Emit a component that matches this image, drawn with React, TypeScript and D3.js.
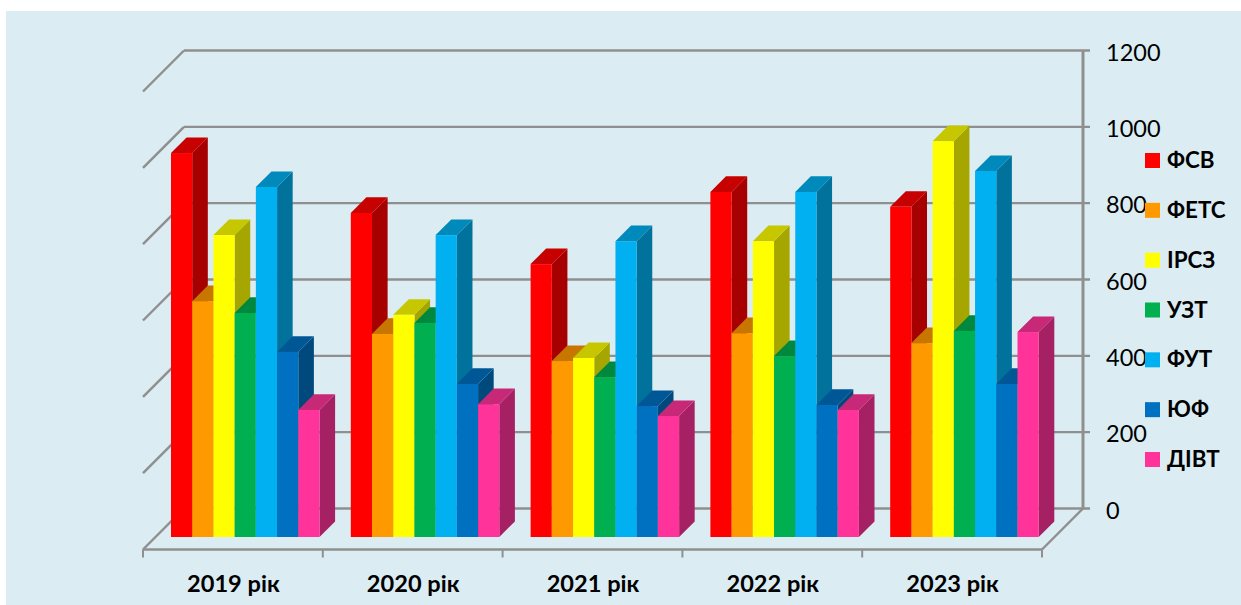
import React from "react";
import * as d3 from "d3";

const years = ["2019 рік", "2020 рік", "2021 рік", "2022 рік", "2023 рік"];
const seriesNames = ["ФСВ", "ФЕТС", "ІРСЗ", "УЗТ", "ФУТ", "ЮФ", "ДІВТ"];
const colors = ["#FF0000", "#FF9900", "#FFFF00", "#00B050", "#00B0F0", "#0070C0", "#FF3399"];
const yTicks = [0, 200, 400, 600, 800, 1000, 1200];

const fsv = [1006, 849, 715, 904, 865];
const fets = [618, 532, 461, 534, 508];
const irsz = [791, 582, 469, 775, 1037];
const uzt = [587, 561, 419, 474, 540];
const fut = [917, 791, 775, 904, 959];
const yuf = [485, 401, 343, 346, 401];
const divt = [333, 348, 317, 333, 537];
const seriesValues = [fsv, fets, irsz, uzt, fut, yuf, divt];

const W = 1241, H = 605;
const wallLeft = 184, wallRight = 1083, wallBottom = 508.5, wallTop = 50.5;
const depth = 41;      // floor depth, wall -> front edge
const barFront = 28.5; // how far the bar fronts sit in front of the wall
const barDepth = 15.6;
const grid = "#8F8F8F";

const y = d3.scaleLinear().domain([0, 1200]).range([wallBottom, wallTop]);
const x0 = d3.scaleBand<string>().domain(years).range([wallLeft - depth, wallRight - depth]);
const x1 = d3.scaleBand<string>().domain(seriesNames)
  .range([28, 28 + 148.5]);
const legendY = d3.scalePoint<string>().domain(seriesNames).range([160.5, 459.5]);

export default function App() {
  const shade = (c: string, k: number) => {
    const r = d3.rgb(c);
    return d3.rgb(r.r * k, r.g * k, r.b * k).formatHex();
  };
  return (
    <svg width={W} height={H} style={{ position: "absolute", left: 0, top: 0, display: "block" }}
      fontFamily="Lato, 'Open Sans', sans-serif">
      <rect x={0} y={0} width={W} height={H} fill="#fff" />
      <rect x={6} y={11} width={W - 6} height={H - 11} fill="#DBEDF3" />

      {/* walls */}
      {yTicks.map(t => (
        <g key={t} stroke={grid} strokeWidth={2.4} fill="none">
          <line x1={wallLeft - depth} y1={y(t) + depth} x2={wallLeft} y2={y(t)} />
          <line x1={wallLeft} y1={y(t)} x2={wallRight + 7} y2={y(t)} />
        </g>
      ))}
      <line x1={wallRight} y1={wallTop} x2={wallRight} y2={wallBottom} stroke={grid} strokeWidth={3} />
      <line x1={wallRight} y1={wallBottom} x2={wallRight - depth} y2={wallBottom + depth} stroke={grid} strokeWidth={2.4} />
      <line x1={wallLeft - depth} y1={wallBottom + depth} x2={wallRight - depth} y2={wallBottom + depth} stroke={grid} strokeWidth={2.4} />
      {[...years, "end"].map((yr, i) => {
        const tx = wallLeft - depth + i * x0.bandwidth();
        return <line key={yr} x1={tx} y1={wallBottom + depth} x2={tx} y2={wallBottom + depth + 8} stroke={grid} strokeWidth={2} />;
      })}

      {/* bars */}
      {years.map((yr, i) => (
        <g key={yr} transform={`translate(${x0(yr)},0)`}>
          {seriesNames.map((s, j) => {
            const bx = x1(s)!, bw = x1.bandwidth();
            const base = y(0) + barFront;
            const top = y(seriesValues[j][i]) + barFront;
            const c = colors[j];
            return (
              <g key={s}>
                <polygon fill={shade(c, 0.65)}
                  points={`${bx + bw},${top} ${bx + bw + barDepth},${top - barDepth} ${bx + bw + barDepth},${base - barDepth} ${bx + bw},${base}`} />
                <polygon fill={shade(c, 0.78)}
                  points={`${bx},${top} ${bx + barDepth},${top - barDepth} ${bx + bw + barDepth},${top - barDepth} ${bx + bw},${top}`} />
                <rect x={bx} y={top} width={bw} height={base - top} fill={c} />
              </g>
            );
          })}
          <text x={x0.bandwidth() / 2 + 0.5} y={592} textAnchor="middle" fontSize={23.6} fontWeight={700} fill="#000">{yr}</text>
        </g>
      ))}

      {/* value axis */}
      {yTicks.map(t => (
        <text key={t} x={1106} y={y(t) + 10} fontSize={23.5} fill="#000">{t}</text>
      ))}

      {/* legend */}
      {seriesNames.map((s, j) => (
        <g key={s}>
          <rect x={1145} y={legendY(s)! - 7.5} width={15} height={15} fill={colors[j]} />
          <text x={1167} y={legendY(s)! + 7.5} fontSize={22.4} fontWeight={700} fill="#000">{s}</text>
        </g>
      ))}
    </svg>
  );
}
